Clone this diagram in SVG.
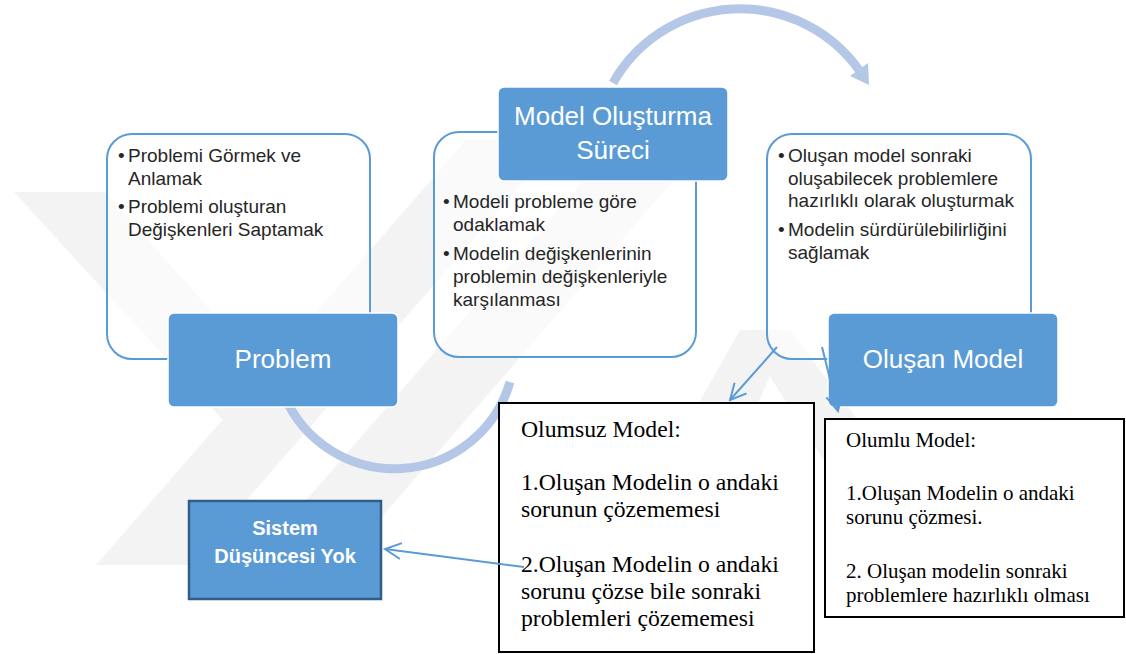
<svg xmlns="http://www.w3.org/2000/svg" width="1126" height="654" viewBox="0 0 1126 654">
<defs>
<style>
.wm{fill:#f3f3f3}
.panel{fill:#ffffff;fill-opacity:0.6;stroke:#5b9bd5;stroke-width:2}
.box{fill:#5b9bd5;stroke:#ffffff;stroke-width:1.5}
.arc{fill:none;stroke:#b4c7e7;stroke-width:9}
.pt{font-family:"Liberation Sans",Arial,sans-serif;font-size:19px;fill:#262626}
.bt{font-family:"Liberation Sans",Arial,sans-serif;font-size:26px;fill:#ffffff;text-anchor:middle}
.tn{font-family:"Liberation Serif","Times New Roman",serif;fill:#000000}
.conn{fill:none;stroke:#5b9bd5;stroke-width:2}
</style>
<marker id="ah" markerUnits="userSpaceOnUse" markerWidth="20" markerHeight="20" viewBox="0 0 20 20" refX="18" refY="10" orient="auto">
<path d="M2,2 L18,10 L2,18" fill="none" stroke="#5b9bd5" stroke-width="2"/>
</marker>
</defs>
<rect width="1126" height="654" fill="#ffffff"/>
<g id="watermark">
<polygon class="wm" points="14,192 105,192 300,410 250,450"/>
<polygon class="wm" points="96,565 190,565 560,140 466,140"/>
<polygon class="wm" points="250,565 340,565 700,150 610,150"/>
<polygon class="wm" points="560,650 650,650 790,330 740,330"/>
<polygon class="wm" points="740,330 790,330 880,450 830,470"/>
</g>
<g id="cycle-arcs">
<path class="arc" d="M613 83 A146 146 0 0 1 859 70"/>
<polygon points="869,85 868,63 850,76" fill="#b4c7e7"/>
<path class="arc" d="M284 395 A120 120 0 0 0 510 382"/>
</g>
<g id="problem-panel">
<rect class="panel" x="107" y="134" width="263" height="225" rx="25"/>
<text class="pt" x="118" y="162">•</text>
<text class="pt" x="128" y="162">Problemi Görmek ve</text>
<text class="pt" x="128" y="185">Anlamak</text>
<text class="pt" x="118" y="213">•</text>
<text class="pt" x="128" y="213">Problemi oluşturan</text>
<text class="pt" x="128" y="236">Değişkenleri Saptamak</text>
</g>
<g id="problem">
<rect class="box" x="168" y="313" width="230" height="94" rx="6"/>
<text class="bt" x="283" y="368">Problem</text>
</g>
<g id="model-panel">
<rect class="panel" x="434" y="132" width="262" height="225" rx="25"/>
<text class="pt" x="443" y="208">•</text>
<text class="pt" x="453" y="208">Modeli probleme göre</text>
<text class="pt" x="453" y="231">odaklamak</text>
<text class="pt" x="443" y="260">•</text>
<text class="pt" x="453" y="260">Modelin değişkenlerinin</text>
<text class="pt" x="453" y="283">problemin değişkenleriyle</text>
<text class="pt" x="453" y="306">karşılanması</text>
</g>
<g id="model-process">
<rect class="box" x="498" y="87" width="230" height="94" rx="6"/>
<text class="bt" x="613" y="125">Model Oluşturma</text>
<text class="bt" x="613" y="159">Süreci</text>
</g>
<g id="result-panel">
<rect class="panel" x="767" y="134" width="264" height="225" rx="25"/>
<text class="pt" x="778" y="162">•</text>
<text class="pt" x="788" y="162">Oluşan model sonraki</text>
<text class="pt" x="788" y="185">oluşabilecek problemlere</text>
<text class="pt" x="788" y="207">hazırlıklı olarak oluşturmak</text>
<text class="pt" x="778" y="236">•</text>
<text class="pt" x="788" y="236">Modelin sürdürülebilirliğini</text>
<text class="pt" x="788" y="259">sağlamak</text>
</g>
<g id="olusan-model">
<rect class="box" x="828" y="313" width="230" height="94" rx="6"/>
<text class="bt" x="943" y="368">Oluşan Model</text>
</g>
<g id="olumsuz">
<rect x="499" y="403" width="315" height="249" fill="#ffffff" stroke="#000000" stroke-width="2"/>
<text class="tn" font-size="23.7" x="521" y="437">Olumsuz Model:</text>
<text class="tn" font-size="23.7" x="521" y="490">1.Oluşan Modelin o andaki</text>
<text class="tn" font-size="23.7" x="521" y="517">sorunun çözememesi</text>
<text class="tn" font-size="23.7" x="521" y="572">2.Oluşan Modelin o andaki</text>
<text class="tn" font-size="23.7" x="521" y="599">sorunu çözse bile sonraki</text>
<text class="tn" font-size="23.7" x="521" y="626">problemleri çözememesi</text>
</g>
<g id="olumlu">
<rect x="825" y="419" width="299" height="198" fill="#ffffff" stroke="#000000" stroke-width="2"/>
<text class="tn" font-size="21" x="846" y="447">Olumlu Model:</text>
<text class="tn" font-size="21" x="846" y="500">1.Oluşan Modelin o andaki</text>
<text class="tn" font-size="21" x="846" y="524">sorunu çözmesi.</text>
<text class="tn" font-size="21" x="846" y="578">2. Oluşan modelin sonraki</text>
<text class="tn" font-size="21" x="846" y="602">problemlere hazırlıklı olması</text>
</g>
<g id="sistem">
<rect x="189" y="501" width="192" height="98" fill="#5b9bd5" stroke="#2f5d8c" stroke-width="2.5"/>
<text x="285" y="535" font-family="Liberation Sans, Arial, sans-serif" font-size="20" font-weight="bold" fill="#ffffff" text-anchor="middle">Sistem</text>
<text x="285" y="563" font-family="Liberation Sans, Arial, sans-serif" font-size="20" font-weight="bold" fill="#ffffff" text-anchor="middle">Düşüncesi Yok</text>
</g>
<g id="connectors">
<path class="conn" d="M777 347 L730 400" marker-end="url(#ah)"/>
<path class="conn" d="M822 347 L838 411" marker-end="url(#ah)"/>
<path class="conn" d="M524 567 L385 549" marker-end="url(#ah)"/>
</g>
</svg>
